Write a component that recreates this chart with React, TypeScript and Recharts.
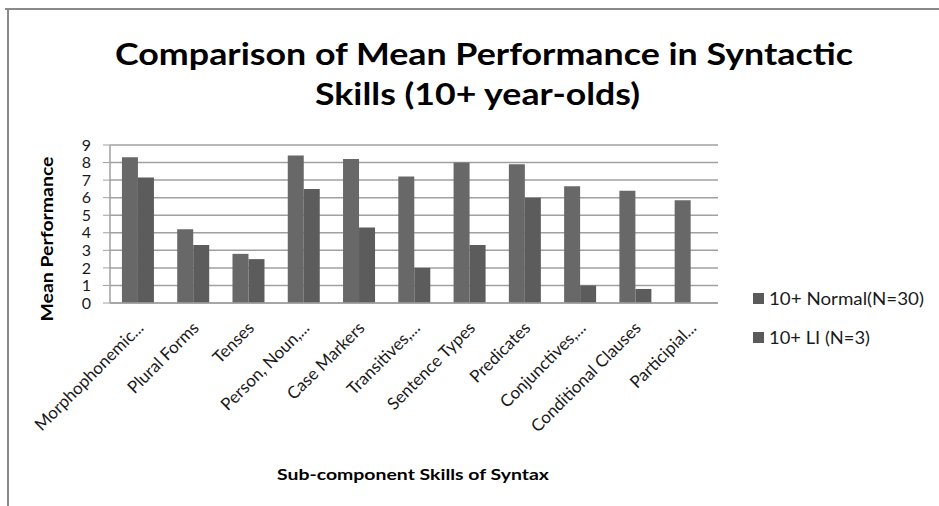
import React from "react";
import { BarChart, Bar, XAxis, YAxis, CartesianGrid } from "recharts";

const skills = [
  "Morphophonemic...",
  "Plural Forms",
  "Tenses",
  "Person, Noun,...",
  "Case Markers",
  "Transitives,...",
  "Sentence Types",
  "Predicates",
  "Conjunctives,...",
  "Conditional Clauses",
  "Participial...",
];
const normal = [8.3, 4.2, 2.8, 8.4, 8.2, 7.2, 8.0, 7.9, 6.65, 6.4, 5.85];
const li = [7.15, 3.3, 2.5, 6.5, 4.3, 2.0, 3.3, 6.0, 1.0, 0.8, 0];
const yTicks = [0, 1, 2, 3, 4, 5, 6, 7, 8, 9];
const seriesNames = ["10+ Normal(N=30)", "10+ LI (N=3)"];
const legendWidths = [155, 101];

const data = skills.map((s, i) => ({ skill: s, normal: normal[i], li: li[i] }));

const FONT = "Lato, 'Open Sans', sans-serif";

const XTick = (props: any) => {
  const { x, payload } = props;
  const ax = x + 7;
  const ay = 329;
  return (
    <text
      x={ax}
      y={ay}
      textAnchor="end"
      transform={`rotate(-45 ${ax} ${ay})`}
      fontSize={17}
      fontFamily={FONT}
      fill="#1a1a1a"
    >
      {payload.value}
    </text>
  );
};

export default function App() {
  return (
    <div style={{ position: "absolute", left: 0, top: 0, width: 939, height: 506, background: "#fff" }}>
      <BarChart
        width={939}
        height={506}
        data={data}
        margin={{ top: 145, right: 221, bottom: 83, left: 0 }}
        barCategoryGap="21.6%"
        barGap={0}
      >
        <CartesianGrid vertical={false} stroke="#a0a0a0" strokeWidth={1.5} />
        <XAxis
          dataKey="skill"
          height={120}
          interval={0}
          tickLine={false}
          axisLine={{ stroke: "#a0a0a0", strokeWidth: 1.5 }}
          tick={<XTick />}
        />
        <YAxis
          width={110}
          domain={[0, 9]}
          ticks={yTicks}
          interval={0}
          tickSize={7}
          tickMargin={12}
          axisLine={{ stroke: "#a0a0a0", strokeWidth: 1.5 }}
          tickLine={{ stroke: "#a0a0a0" }}
          tick={{ fontSize: 16, fontFamily: FONT, fill: "#1a1a1a" }}
        />
        <Bar dataKey="normal" name={seriesNames[0]} fill="#686868" isAnimationActive={false} />
        <Bar dataKey="li" name={seriesNames[1]} fill="#5c5c5c" isAnimationActive={false} />
      </BarChart>
      <svg
        width={939}
        height={506}
        style={{ position: "absolute", left: 0, top: 0, pointerEvents: "none" }}
      >
        <line x1={5} y1={9} x2={939} y2={9} stroke="#8a8a8a" strokeWidth={2} />
        <line x1={8} y1={9} x2={8} y2={506} stroke="#8a8a8a" strokeWidth={2} />
        <text
          x={115}
          y={65}
          fontSize={30}
          fontWeight="bold"
          fontFamily={FONT}
          fill="#000"
          textLength={738}
          lengthAdjust="spacingAndGlyphs"
        >
          Comparison of Mean Performance in Syntactic
        </text>
        <text
          x={315}
          y={105}
          fontSize={30}
          fontWeight="bold"
          fontFamily={FONT}
          fill="#000"
          textLength={325}
          lengthAdjust="spacingAndGlyphs"
        >
          Skills (10+ year-olds)
        </text>
        <text
          x={0}
          y={0}
          transform="translate(53 239) rotate(-90)"
          textAnchor="middle"
          fontSize={17}
          fontWeight="bold"
          fontFamily={FONT}
          fill="#000"
          textLength={165}
          lengthAdjust="spacingAndGlyphs"
        >
          Mean Performance
        </text>
        <text
          x={277}
          y={480}
          fontSize={16}
          fontWeight="bold"
          fontFamily={FONT}
          fill="#000"
          textLength={272}
          lengthAdjust="spacingAndGlyphs"
        >
          Sub-component Skills of Syntax
        </text>
        {seriesNames.map((n, i) => (
          <g key={n}>
            <rect x={753} y={293 + i * 39} width={11} height={11} fill="#5a5a5a" />
            <text
              x={769}
              y={305 + i * 39}
              fontSize={17}
              fontFamily={FONT}
              fill="#1a1a1a"
              textLength={legendWidths[i]}
              lengthAdjust="spacingAndGlyphs"
            >
              {n}
            </text>
          </g>
        ))}
      </svg>
    </div>
  );
}
